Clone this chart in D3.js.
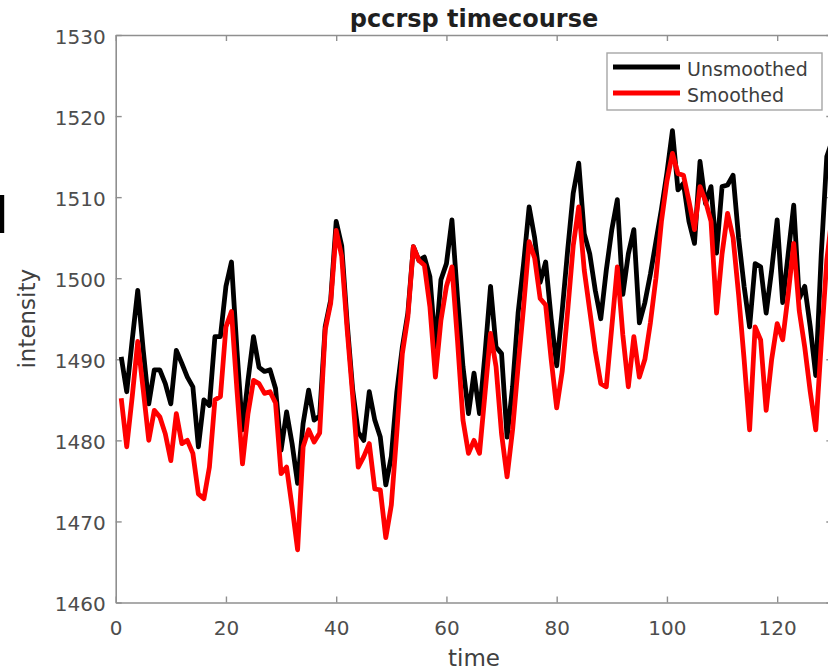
<!DOCTYPE html>
<html>
<head>
<meta charset="utf-8">
<script src="https://cdn.jsdelivr.net/npm/d3@7/dist/d3.min.js"></script>
<style>
  html, body { margin: 0; padding: 0; background: #ffffff; }
  svg { display: block; }
  text { font-family: "DejaVu Sans", "Noto Sans", sans-serif; }
</style>
</head>
<body>
<svg id="chart" width="828" height="671"></svg>
<script>
// Intensity per time point (time = 1, 2, 3, ...)
const unsmoothed = [
  1490.3, 1486.0, 1492.4, 1498.5, 1491.1, 1484.5, 1488.7, 1488.7, 1487.0, 1484.5,
  1491.1, 1489.5, 1487.8, 1486.6, 1479.2, 1485.0, 1484.3, 1492.8, 1492.8, 1499.0,
  1502.0, 1491.1, 1481.3, 1487.4, 1492.8, 1489.0, 1488.5, 1488.7, 1486.4, 1478.8,
  1483.5, 1479.6, 1474.7, 1482.1, 1486.2, 1482.5, 1483.0, 1494.0, 1497.3, 1507.0,
  1504.0, 1494.4, 1486.2, 1481.0, 1480.0, 1486.0, 1482.5, 1480.4, 1474.5, 1478.0,
  1486.0, 1491.5, 1495.7, 1503.9, 1502.2, 1502.6, 1500.2, 1491.5, 1499.8, 1501.8,
  1507.2, 1497.7, 1489.1, 1483.3, 1488.3, 1483.3, 1490.7, 1499.0, 1491.5, 1490.7,
  1480.4, 1486.6, 1495.7, 1501.8, 1508.8, 1505.0, 1499.5, 1502.0, 1495.0, 1489.2,
  1496.0, 1503.5, 1510.5, 1514.2, 1505.5, 1503.0, 1498.5, 1495.0, 1501.0, 1506.0,
  1509.7, 1498.0, 1503.0, 1506.0, 1494.5, 1497.0, 1500.5, 1504.5, 1508.5, 1513.0,
  1518.2, 1510.9, 1511.7, 1507.0, 1504.3, 1514.4, 1509.2, 1511.3, 1503.1, 1511.3,
  1511.5, 1512.7, 1505.0, 1499.0, 1494.0, 1501.8, 1501.4, 1495.7, 1501.0, 1507.2,
  1497.0, 1503.0, 1509.0, 1497.5, 1499.0, 1494.0, 1488.0, 1503.0, 1515.0, 1517.0
];

const smoothed = [
  1485.2, 1479.2, 1485.4, 1492.2, 1486.2, 1480.0, 1483.7, 1482.9, 1480.8, 1477.5,
  1483.3, 1479.6, 1480.0, 1478.4, 1473.4, 1472.8, 1476.7, 1485.0, 1485.4, 1494.0,
  1495.9, 1486.2, 1477.1, 1483.3, 1487.4, 1487.0, 1485.8, 1486.0, 1484.6, 1475.9,
  1476.7, 1471.8, 1466.5, 1479.2, 1481.3, 1479.8, 1480.9, 1493.6, 1496.9, 1505.9,
  1502.7, 1493.6, 1485.4, 1476.7, 1478.0, 1479.6, 1474.0, 1473.9, 1468.0, 1472.0,
  1481.0, 1490.7, 1495.2, 1503.9, 1502.2, 1501.6, 1496.5, 1487.8, 1494.8, 1499.0,
  1501.4, 1492.4, 1482.5, 1478.4, 1480.0, 1478.4, 1485.8, 1493.2, 1489.1, 1480.8,
  1475.5, 1481.3, 1489.1, 1496.5, 1504.5, 1502.5, 1497.5, 1496.7, 1490.0, 1484.0,
  1488.5, 1496.0, 1504.0, 1508.8, 1501.0, 1496.0, 1491.0, 1487.0, 1486.6, 1494.0,
  1501.4, 1493.0, 1486.6, 1492.8, 1487.8, 1490.0, 1494.5, 1500.0, 1507.0, 1512.0,
  1515.4, 1512.9, 1512.7, 1509.5, 1506.0, 1511.3, 1509.5, 1507.0, 1495.7, 1503.0,
  1508.0, 1505.0, 1498.0, 1490.0, 1481.3, 1494.0, 1492.4, 1483.7, 1490.0, 1494.4,
  1492.4, 1498.0, 1504.3, 1496.0, 1491.5, 1486.0, 1481.3, 1492.0, 1502.2, 1508.0
];

const seriesNames = ["Unsmoothed", "Smoothed"];
const seriesColors = ["#000000", "#ff0000"];
const xTicks = [0, 20, 40, 60, 80, 100, 120];
const yTicks = [1460, 1470, 1480, 1490, 1500, 1510, 1520, 1530];

const svg = d3.select("#chart");

const plot = { left: 115.7, right: 832.3, top: 35, bottom: 602.5 };

const x = d3.scaleLinear().domain([0, 130]).range([plot.left, plot.right]);
const y = d3.scaleLinear().domain([1460, 1530]).range([plot.bottom, plot.top]);

const axisColor = "#8f8f8f";
const tickTextColor = "#4d4d4d";
const plain = d3.format("d");

// axes box with inward ticks
const gBottom = svg.append("g").attr("transform", `translate(0,${plot.bottom})`)
  .call(d3.axisBottom(x).tickValues(xTicks).tickFormat(plain)
    .tickSize(-6).tickSizeOuter(0).tickPadding(18));
const gTop = svg.append("g").attr("transform", `translate(0,${plot.top})`)
  .call(d3.axisTop(x).tickValues(xTicks).tickSize(-6).tickSizeOuter(0).tickFormat(""));
const gLeft = svg.append("g").attr("transform", `translate(${plot.left},0)`)
  .call(d3.axisLeft(y).tickValues(yTicks).tickFormat(plain)
    .tickSize(-6).tickSizeOuter(0).tickPadding(10));
const gRight = svg.append("g").attr("transform", `translate(${plot.right},0)`)
  .call(d3.axisRight(y).tickValues(yTicks).tickSize(-6).tickSizeOuter(0).tickFormat(""));

[gBottom, gTop, gLeft, gRight].forEach(g => {
  g.select(".domain").attr("stroke", axisColor).attr("stroke-width", 1.6);
  g.selectAll(".tick line").attr("stroke", axisColor).attr("stroke-width", 1.4);
  g.selectAll(".tick text")
    .attr("fill", tickTextColor)
    .style("font-family", "'DejaVu Sans', sans-serif")
    .style("font-size", "20px");
});
gLeft.selectAll(".tick text").attr("dy", "0.42em");

// data lines
const line = d3.line()
  .x((d, i) => x(i + 1))
  .y(d => y(d));

[unsmoothed, smoothed].forEach((series, k) => {
  svg.append("path")
    .datum(series)
    .attr("fill", "none")
    .attr("stroke", seriesColors[k])
    .attr("stroke-width", 4.8)
    .attr("stroke-linejoin", "round")
    .attr("d", line);
});

// title and axis labels
svg.append("text")
  .attr("x", (plot.left + plot.right) / 2)
  .attr("y", 27)
  .attr("text-anchor", "middle")
  .attr("fill", "#1f1f1f")
  .style("font-size", "24px")
  .style("font-weight", "bold")
  .text("pccrsp timecourse");

svg.append("text")
  .attr("x", (plot.left + plot.right) / 2)
  .attr("y", 666)
  .attr("text-anchor", "middle")
  .attr("fill", "#404040")
  .style("font-size", "23px")
  .text("time");

svg.append("text")
  .attr("transform", `translate(35,${(plot.top + plot.bottom) / 2}) rotate(-90)`)
  .attr("text-anchor", "middle")
  .attr("fill", "#404040")
  .style("font-size", "23px")
  .text("intensity");

// legend
const legend = svg.append("g");
legend.append("rect")
  .attr("x", 607).attr("y", 53).attr("width", 215).attr("height", 57)
  .attr("fill", "#ffffff").attr("stroke", "#a6a6a6").attr("stroke-width", 1.4);

seriesNames.forEach((name, k) => {
  const ly = 67 + k * 26;
  legend.append("line")
    .attr("x1", 613).attr("x2", 680).attr("y1", ly).attr("y2", ly)
    .attr("stroke", seriesColors[k]).attr("stroke-width", 4.8);
  legend.append("text")
    .attr("x", 687).attr("y", ly + 8.5)
    .attr("fill", "#3d3d3d")
    .style("font-size", "19px")
    .text(name);
});

// edge of a neighbouring label, running in from the left margin
svg.append("text")
  .attr("x", -23).attr("y", 233)
  .attr("fill", "#000000")
  .style("font-size", "50px")
  .text("d");
</script>
</body>
</html>
